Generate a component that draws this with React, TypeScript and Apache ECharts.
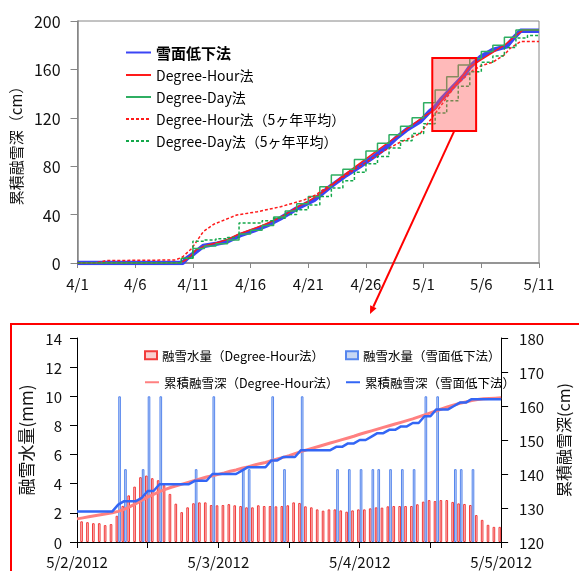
import React, { useEffect, useRef } from 'react';
import * as echarts from 'echarts';

const FONT = '"Noto Sans CJK JP", "Noto Sans", sans-serif';

// ---------- top chart (4/1 - 5/11, x = days since 4/1) ----------
const topXTickLabels = ['4/1', '4/6', '4/11', '4/16', '4/21', '4/26', '5/1', '5/6', '5/11'];

const blueTop: [number, number][] = [
  [0, 0], [9.1, 0], [9.5, 4], [10.1, 8], [10.9, 14], [12.1, 16], [13, 18], [14.1, 23],
  [15.3, 27], [16.4, 31], [17.6, 37], [19, 45], [20.5, 52], [21.9, 63], [23.3, 72.7],
  [24.5, 80], [25.7, 88], [26.8, 96], [27.7, 104], [28.5, 110], [29.7, 117], [30.5, 125],
  [31, 129], [31.5, 135], [32, 140], [32.5, 145], [33, 150], [33.5, 155], [34, 162],
  [34.9, 170], [36, 176], [37.2, 179], [37.8, 186], [38.4, 192], [40, 192],
];
const redTop: [number, number][] = [
  [0, 0], [8.8, 0], [9.3, 2], [9.8, 6], [10.3, 11], [11, 14], [12, 16.5], [13, 19.5],
  [14, 24], [15, 27.5], [16, 31], [17, 35], [18, 40], [19, 46], [20, 51], [21, 57],
  [22, 64], [23, 72], [24, 79], [25, 86], [26, 93], [27, 100], [28, 107], [29, 114],
  [30, 121], [31, 127], [32, 139.5], [33, 150], [34, 162], [35, 168], [36, 174],
  [37, 180], [38, 188], [38.6, 192.5], [40, 192.5],
];
const greenTop: [number, number][] = [
  [0, 0], [8, 0], [9, 4], [10, 12], [11, 14], [12, 16], [13, 19], [14, 24], [15, 27],
  [16, 31], [17, 38], [18, 43], [19, 49], [20, 55], [21, 63], [22, 72.7], [23, 77.4],
  [24, 85.6], [25, 92.5], [26, 99], [27, 106], [28, 113], [29, 120], [30, 132.5],
  [31, 143], [32, 154], [33, 163.7], [34, 169], [35, 174.7], [36, 180], [37, 186.5],
  [38, 192.6], [39, 192.6], [40, 192.6],
];
const redAvgTop: [number, number][] = [
  [0, 0], [1.5, 0], [2.5, 2], [8.5, 2.5], [9.1, 5], [9.9, 12], [10.9, 25.9], [11.8, 32],
  [13.8, 39.7], [15.6, 42.4], [17.6, 46.5], [19.6, 52], [20.6, 56], [21.5, 62],
  [22.9, 70], [24.1, 78], [25, 83], [26.2, 90.6], [27, 95], [28, 100], [29, 104],
  [29.7, 107], [30.8, 121], [31.5, 130], [32.6, 144.6], [33.5, 153], [34.3, 159.5],
  [35, 163], [36, 166], [37, 172], [37.5, 177.4], [38.4, 183], [40, 183],
];
const greenAvgTop: [number, number][] = [
  [0, 0], [8, 0], [9, 4], [10, 18], [11, 19], [12, 20], [13, 21], [14, 33], [15, 33],
  [16, 35], [17, 37], [18, 40], [19, 44], [20, 48], [21, 55], [22, 62], [23, 68],
  [24, 75], [25, 82], [26, 88], [27, 95], [28, 101], [29, 107], [30, 115], [31, 124],
  [32, 134], [33, 146], [34, 158], [35, 166], [36, 171], [37, 178], [38, 186],
  [39, 188], [40, 188],
];
// highlighted period (days since 4/1) and value range
const highlightDays = [30.75, 34.55];
const highlightValues = [109, 169.5];

// ---------- bottom chart (hourly, 5/2 0:00 - 5/5 0:00) ----------
const bottomDateLabels = ['5/2/2012', '5/3/2012', '5/4/2012', '5/5/2012'];
const hourCategories = [
  '0', '1', '2', '3', '4', '5', '6', '7', '8', '9', '10', '11', '12', '13', '14', '15', '16', '17',
  '18', '19', '20', '21', '22', '23', '24', '25', '26', '27', '28', '29', '30', '31', '32', '33',
  '34', '35', '36', '37', '38', '39', '40', '41', '42', '43', '44', '45', '46', '47', '48', '49',
  '50', '51', '52', '53', '54', '55', '56', '57', '58', '59', '60', '61', '62', '63', '64', '65',
  '66', '67', '68', '69', '70', '71', '72',
];
// melt water per hour, Degree-Hour method (hours 1..72)
const meltDH = [
  1.42, 1.36, 1.29, 1.29, 1.16, 1.23, 1.8, 2.48, 3.2, 3.8,
  4.45, 4.56, 4.38, 4.24, 3.9, 3.3, 2.63, 2.05, 2.38, 2.66,
  2.72, 2.72, 2.54, 2.52, 2.54, 2.6, 2.52, 2.47, 2.38, 2.38,
  2.52, 2.47, 2.47, 2.45, 2.47, 2.52, 2.72, 2.68, 2.45, 2.38,
  2.24, 2.15, 2.24, 2.24, 2.17, 2.08, 2.17, 2.24, 2.24, 2.31,
  2.38, 2.36, 2.45, 2.47, 2.47, 2.47, 2.47, 2.59, 2.77, 2.88,
  2.81, 2.88, 2.88, 2.75, 2.65, 2.61, 2.54, 1.85, 1.52, 1.18,
  1.04, 1.04,
];
// melt water, snow-surface lowering method (only hours with a value)
const meltSurfHours = [7, 8, 11, 12, 14, 20, 23, 28, 29, 33, 35, 38, 44, 46, 48, 50, 51, 53, 55, 57, 59, 61, 64, 65, 67];
const meltSurfValues = [10, 5, 5, 10, 10, 5, 10, 5, 5, 10, 5, 10, 5, 5, 5, 5, 5, 5, 5, 5, 10, 10, 5, 5, 5];
// cumulative melt depth (cm), hours 0..72
const cumDH = [
  126.8, 127.1, 127.4, 127.7, 128.0, 128.3, 128.6, 129.0, 129.6, 130.4,
  131.3, 132.3, 133.2, 134.0, 134.8, 135.5, 136.1, 136.6, 137.1, 137.6,
  138.1, 138.6, 139.1, 139.5, 139.9, 140.3, 140.8, 141.2, 141.7, 142.1,
  142.6, 143.0, 143.4, 143.9, 144.4, 144.9, 145.4, 146.0, 146.6, 147.1,
  147.6, 148.1, 148.6, 149.1, 149.6, 150.1, 150.6, 151.1, 151.7, 152.2,
  152.7, 153.2, 153.7, 154.2, 154.7, 155.2, 155.7, 156.2, 156.8, 157.4,
  158.0, 158.6, 159.2, 159.8, 160.3, 160.8, 161.2, 161.6, 161.9, 162.1,
  162.2, 162.3, 162.4,
];
const cumSurf = [
  129, 129, 129, 129, 129, 129, 129, 131, 132, 132,
  132, 133, 135, 135, 137, 137, 137, 137, 137, 137,
  138, 138, 138, 140, 140, 140, 140, 140, 141, 142,
  142, 142, 142, 144, 144, 145, 145, 145, 147, 147,
  147, 147, 147, 147, 148, 148, 149, 149, 150, 150,
  151, 152, 152, 153, 153, 154, 154, 155, 155, 157,
  157, 159, 159, 159, 160, 161, 161, 162, 162, 162,
  162, 162, 162,
];

const NAMES_TOP = ['雪面低下法', 'Degree-Hour法', 'Degree-Day法', 'Degree-Hour法（5ヶ年平均）', 'Degree-Day法（5ヶ年平均）'];
const NAMES_BOTTOM = ['融雪水量（Degree-Hour法）', '融雪水量（雪面低下法）', '累積融雪深（Degree-Hour法）', '累積融雪深（雪面低下法）'];

export default function App() {
  const ref = useRef<HTMLDivElement>(null);
  useEffect(() => {
    if (!ref.current) return;
    const chart = echarts.init(ref.current, null, { renderer: 'svg' });

    const redBars: (number | string)[] = ['-', ...meltDH];
    const blueBars: (number | string)[] = hourCategories.map(() => '-');
    meltSurfHours.forEach((h, i) => { blueBars[h] = meltSurfValues[i]; });

    const gray = '#868686';
    const txt = { color: '#111', fontFamily: FONT };
    const hideSymbol = { opacity: 0 };
    const legText = { ...txt, fontSize: 12.5, color: '#000' };

    const option: any = {
      animation: false,
      textStyle: { fontFamily: FONT },
      grid: [
        { left: 77, top: 21, width: 462, height: 242, show: true, borderColor: gray, borderWidth: 1, backgroundColor: 'transparent' },
        { left: 77, top: 338, width: 431, height: 204 },
      ],
      xAxis: [
        {
          gridIndex: 0, type: 'value', min: 0, max: 40, interval: 5,
          axisLine: { lineStyle: { color: gray, width: 1.5 } },
          axisTick: { show: true, length: 5, lineStyle: { color: gray } },
          axisLabel: { ...txt, fontSize: 15, margin: 13, formatter: (v: number) => topXTickLabels[Math.round(v / 5)] },
          splitLine: { show: false },
        },
        {
          gridIndex: 1, type: 'category', data: hourCategories, boundaryGap: false,
          axisLine: { lineStyle: { color: '#000', width: 1 } },
          axisTick: { show: true, length: 6, interval: (i: number) => i % 12 === 0, lineStyle: { color: '#000' } },
          axisLabel: {
            ...txt, fontSize: 15, margin: 12, interval: (i: number) => i % 24 === 0,
            formatter: (v: string) => bottomDateLabels[Number(v) / 24] ?? '',
          },
          splitLine: { show: false },
        },
      ],
      yAxis: [
        {
          gridIndex: 0, type: 'value', min: 0, max: 200, interval: 40,
          name: '累積融雪深（cm）', nameLocation: 'middle', nameRotate: 90, nameGap: 50,
          nameTextStyle: { ...txt, fontSize: 15 },
          axisLine: { show: true, lineStyle: { color: gray, width: 1.5 } },
          axisTick: { show: true, length: 7, lineStyle: { color: gray } },
          axisLabel: { ...txt, fontSize: 16, margin: 17 },
          splitLine: { show: false },
        },
        {
          gridIndex: 1, type: 'value', min: 0, max: 14, interval: 2,
          name: '融雪水量(mm)', nameLocation: 'middle', nameRotate: 90, nameGap: 32,
          nameTextStyle: { ...txt, fontSize: 17 },
          axisLine: { show: true, lineStyle: { color: '#000' } },
          axisTick: { show: true, length: 7, lineStyle: { color: '#000' } },
          axisLabel: { ...txt, fontSize: 15, margin: 15 },
          splitLine: { show: false },
        },
        {
          gridIndex: 1, type: 'value', min: 120, max: 180, interval: 10, position: 'right',
          name: '累積融雪深(cm)', nameLocation: 'middle', nameRotate: 90, nameGap: 45,
          nameTextStyle: { ...txt, fontSize: 16 },
          axisLine: { show: true, lineStyle: { color: '#000' } },
          axisTick: { show: true, length: 7, lineStyle: { color: '#000' } },
          axisLabel: { ...txt, fontSize: 15, margin: 18 },
          splitLine: { show: false },
        },
      ],
      legend: [
        {
          orient: 'vertical', left: 120, top: 40, itemWidth: 25, itemHeight: 14, itemGap: 8,
          itemStyle: hideSymbol,
          textStyle: { ...txt, fontSize: 14, color: '#000' },
          data: [
            { name: NAMES_TOP[0], textStyle: { fontSize: 15, fontWeight: 'bold' } },
            NAMES_TOP[1], NAMES_TOP[2], NAMES_TOP[3], NAMES_TOP[4],
          ],
        },
        { left: 139, top: 344, icon: 'rect', itemWidth: 12, itemHeight: 8, textStyle: legText, data: [NAMES_BOTTOM[0]] },
        { left: 340, top: 344, icon: 'rect', itemWidth: 12, itemHeight: 8, textStyle: legText, data: [NAMES_BOTTOM[1]] },
        { left: 139, top: 371, itemWidth: 14, itemHeight: 8, itemStyle: hideSymbol, textStyle: legText, data: [NAMES_BOTTOM[2]] },
        { left: 340, top: 371, itemWidth: 14, itemHeight: 8, itemStyle: hideSymbol, textStyle: legText, data: [NAMES_BOTTOM[3]] },
      ],
      series: [
        {
          name: NAMES_TOP[0], type: 'line', xAxisIndex: 0, yAxisIndex: 0, data: blueTop, symbol: 'none',
          lineStyle: { color: '#3b45f5', width: 4.5 }, itemStyle: { color: '#3b45f5' }, z: 2,
        },
        {
          name: NAMES_TOP[1], type: 'line', xAxisIndex: 0, yAxisIndex: 0, data: redTop, symbol: 'none',
          lineStyle: { color: '#ff1a1a', width: 1.5 }, itemStyle: { color: '#ff1a1a' }, z: 3,
        },
        {
          name: NAMES_TOP[2], type: 'line', xAxisIndex: 0, yAxisIndex: 0, data: greenTop, symbol: 'none', step: 'end',
          lineStyle: { color: '#2fae62', width: 1.5 }, itemStyle: { color: '#2fae62' }, z: 3,
        },
        {
          name: NAMES_TOP[3], type: 'line', xAxisIndex: 0, yAxisIndex: 0, data: redAvgTop, symbol: 'none',
          lineStyle: { color: '#ff1a1a', width: 1.5, type: [3, 2] }, itemStyle: { color: '#ff1a1a' }, z: 3,
        },
        {
          name: NAMES_TOP[4], type: 'line', xAxisIndex: 0, yAxisIndex: 0, data: greenAvgTop, symbol: 'none', step: 'end',
          lineStyle: { color: '#13a84a', width: 1.5, type: [3, 2] }, itemStyle: { color: '#13a84a' }, z: 3,
        },
        {
          type: 'line', xAxisIndex: 0, yAxisIndex: 0, data: [], z: 10, silent: true,
          markArea: {
            silent: true, z: 10,
            itemStyle: { color: 'rgba(255,90,90,0.42)', borderColor: '#ff0000', borderWidth: 2 },
            data: [[{ coord: [highlightDays[0], highlightValues[0]] }, { coord: [highlightDays[1], highlightValues[1]] }]],
          },
        },
        {
          name: NAMES_BOTTOM[0], type: 'bar', xAxisIndex: 1, yAxisIndex: 1, data: redBars,
          barWidth: '45%', barGap: '0%',
          itemStyle: { color: '#f9cfcf', borderColor: '#f23b3b', borderWidth: 1 },
        },
        {
          name: NAMES_BOTTOM[1], type: 'bar', xAxisIndex: 1, yAxisIndex: 1, data: blueBars,
          barWidth: '45%', barGap: '0%',
          itemStyle: { color: '#c7d7f3', borderColor: '#5686ee', borderWidth: 1 },
        },
        {
          name: NAMES_BOTTOM[2], type: 'line', xAxisIndex: 1, yAxisIndex: 2, data: cumDH, symbol: 'none',
          lineStyle: { color: '#ff8080', width: 3 }, itemStyle: { color: '#ff8080' }, z: 4,
        },
        {
          name: NAMES_BOTTOM[3], type: 'line', xAxisIndex: 1, yAxisIndex: 2, data: cumSurf, symbol: 'none',
          lineStyle: { color: '#3366f5', width: 2.5 }, itemStyle: { color: '#3366f5' }, z: 5,
        },
      ],
    };
    chart.setOption(option);

    // connector arrow from the highlight box to the detail panel
    const start = chart.convertToPixel({ gridIndex: 0 }, [(highlightDays[0] + highlightDays[1]) / 2, highlightValues[0]]) as number[];
    const end = [370, 314];
    const dx = end[0] - start[0];
    const dy = end[1] - start[1];
    const len = Math.sqrt(dx * dx + dy * dy);
    const ux = dx / len, uy = dy / len;
    const base = [end[0] - ux * 8, end[1] - uy * 8];
    const px = -uy, py = ux;
    chart.setOption({
      graphic: [
        { type: 'line', shape: { x1: start[0], y1: start[1], x2: base[0], y2: base[1] }, style: { stroke: '#ff0000', lineWidth: 2 }, z: 20 },
        {
          type: 'polygon',
          shape: { points: [[end[0], end[1]], [base[0] + px * 3.5, base[1] + py * 3.5], [base[0] - px * 3.5, base[1] - py * 3.5]] },
          style: { fill: '#ff0000' }, z: 20,
        },
        { type: 'rect', shape: { x: 11, y: 324, width: 620, height: 300 }, style: { fill: 'none', stroke: '#ff0000', lineWidth: 2 }, z: 20 },
      ],
    });

    return () => chart.dispose();
  }, []);
  return <div ref={ref} style={{ position: 'fixed', left: 0, top: 0, width: 579, height: 571 }} />;
}
